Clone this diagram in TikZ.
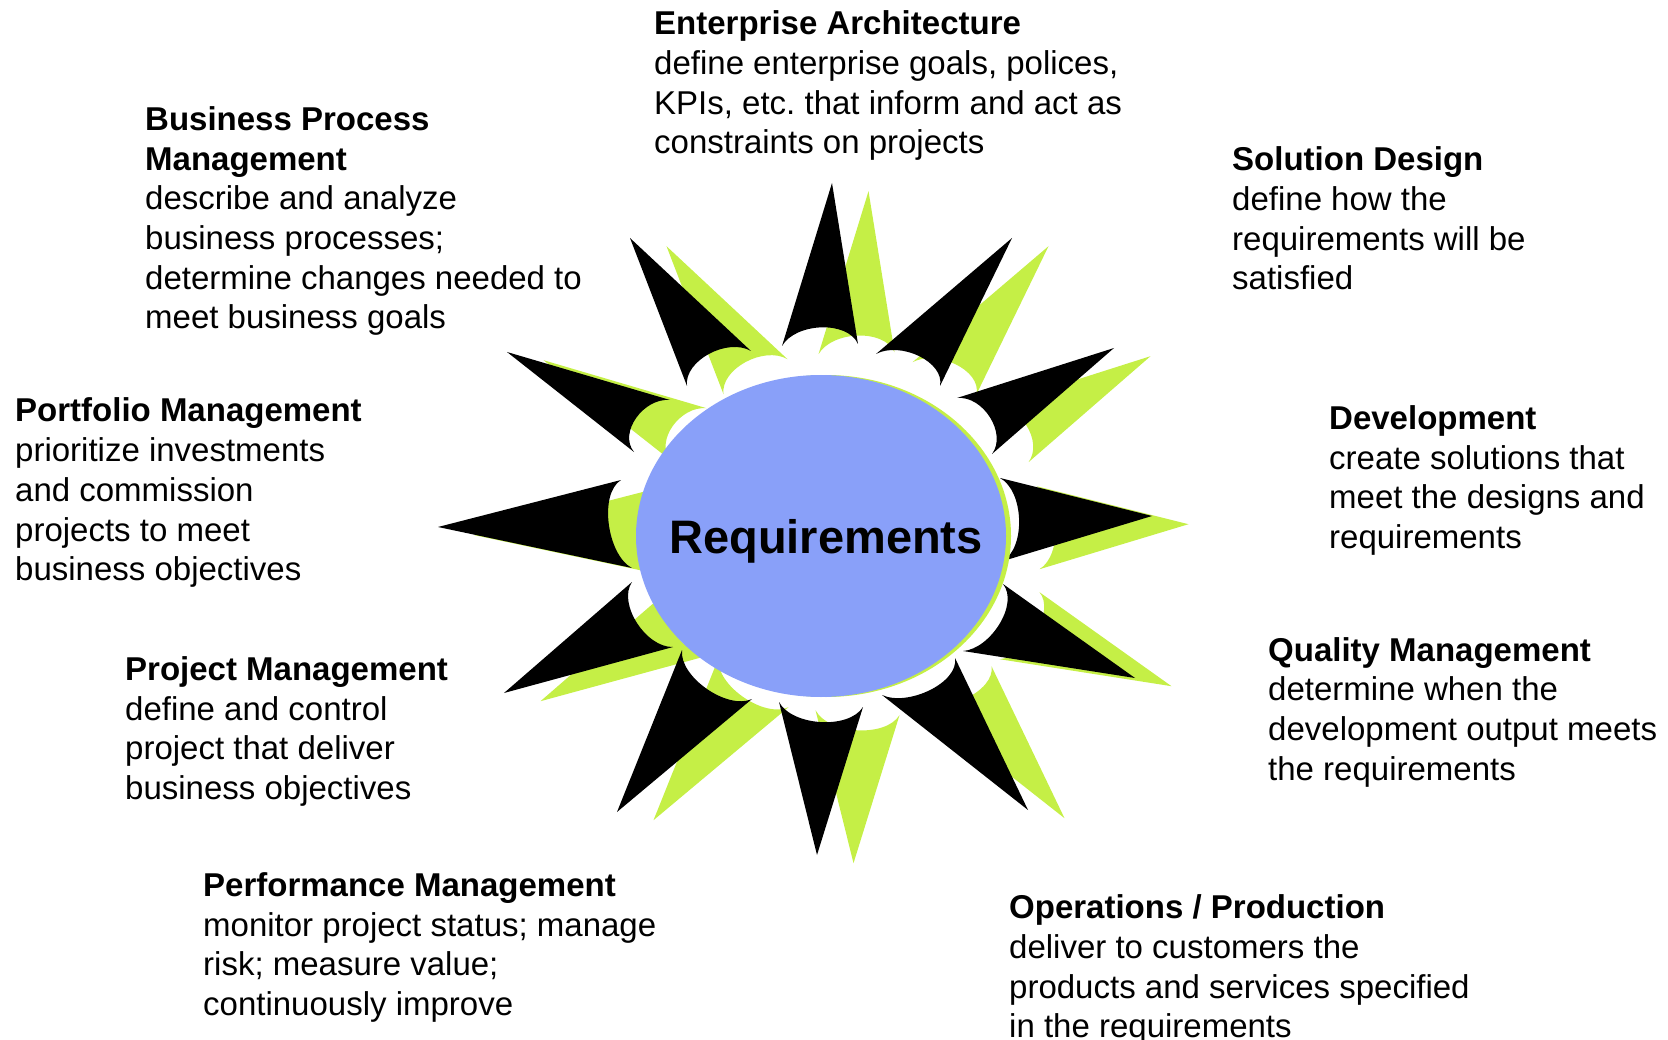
\documentclass[tikz,border=0pt]{standalone}
\usepackage{fontspec}
\setmainfont{Liberation Sans}
\usetikzlibrary{calc}
\frenchspacing

\definecolor{reqblue}{RGB}{137,160,249}
\definecolor{limegreen}{RGB}{197,239,70}

% one spike: tip, base corner, base corner (base is scooped out)
\newcommand{\burstspike}[3]{%
  \fill (#2) -- (#1) -- (#3)
    .. controls ($(#3)!0.1!(#2)!24pt!(#1)$) and ($(#2)!0.1!(#3)!24pt!(#1)$) .. (#2);}

% the twelve spikes round the centre
\newcommand{\starburst}{%
  \burstspike{832,183}{782,346}{858,344}
  \burstspike{1012,238}{876,354}{940,386}
  \burstspike{1114,348}{957,398}{992,454}
  \burstspike{1152,516}{1000,478}{1003,561}
  \burstspike{1135,678}{1003,584}{963,651}
  \burstspike{1028,810}{955,658}{882,695}
  \burstspike{817,855}{863,707}{779,702}
  \burstspike{617,812}{752,699}{682,650}
  \burstspike{504,693}{673,647}{632,582}
  \burstspike{438,527}{632,568}{621,480}
  \burstspike{507,352}{634,452}{670,400}
  \burstspike{630,238}{687,386}{751,351}}

\tikzset{role/.style={anchor=north west,inner sep=0pt,align=left,
    font=\fontsize{33}{39.7}\selectfont}}

\begin{document}
\begin{tikzpicture}[x=1pt,y=-1pt]
    \useasboundingbox (0,0) rectangle (1668,1040);

    % Shadow of the burst
    \begin{scope}[shift={(36.5,8.2)},color=limegreen]
        \starburst
    \end{scope}

    % Burst
    \starburst

    % Centre
    \fill[limegreen] (826,536) ellipse [x radius=185,y radius=161];
    \fill[reqblue] (821,536) ellipse [x radius=185,y radius=161];
    \node[font=\fontsize{47}{50}\selectfont\bfseries] (req) at (826,541) {Requirements};

    % Roles round the burst
    \node[role] (ea) at (654,10.5) {\textbf{Enterprise Architecture}\\define enterprise goals, polices,\\KPIs, etc. that inform and act as\\constraints on projects};
    \node[role] (bpm) at (145,106.3) {\textbf{Business Process}\\\textbf{Management}\\describe and analyze\\business processes;\\determine changes needed to\\meet business goals};
    \node[role] (sd) at (1232,146.7) {\textbf{Solution Design}\\define how the\\requirements will be\\satisfied};
    \node[role] (pfm) at (15,397.8) {\textbf{Portfolio Management}\\prioritize investments\\and commission\\projects to meet\\business objectives};
    \node[role] (dev) at (1329,405.2) {\textbf{Development}\\create solutions that\\meet the designs and\\requirements};
    \node[role] (pjm) at (125,656.3) {\textbf{Project Management}\\define and control\\project that deliver\\business objectives};
    \node[role] (qm) at (1268,637.1) {\textbf{Quality Management}\\determine when the\\development output meets\\the requirements};
    \node[role] (perf) at (203,872.2) {\textbf{Performance Management}\\monitor project status; manage\\risk; measure value;\\continuously improve};
    \node[role] (ops) at (1009,894.6) {\textbf{Operations / Production}\\deliver to customers the\\products and services specified\\in the requirements};
\end{tikzpicture}
\end{document}
